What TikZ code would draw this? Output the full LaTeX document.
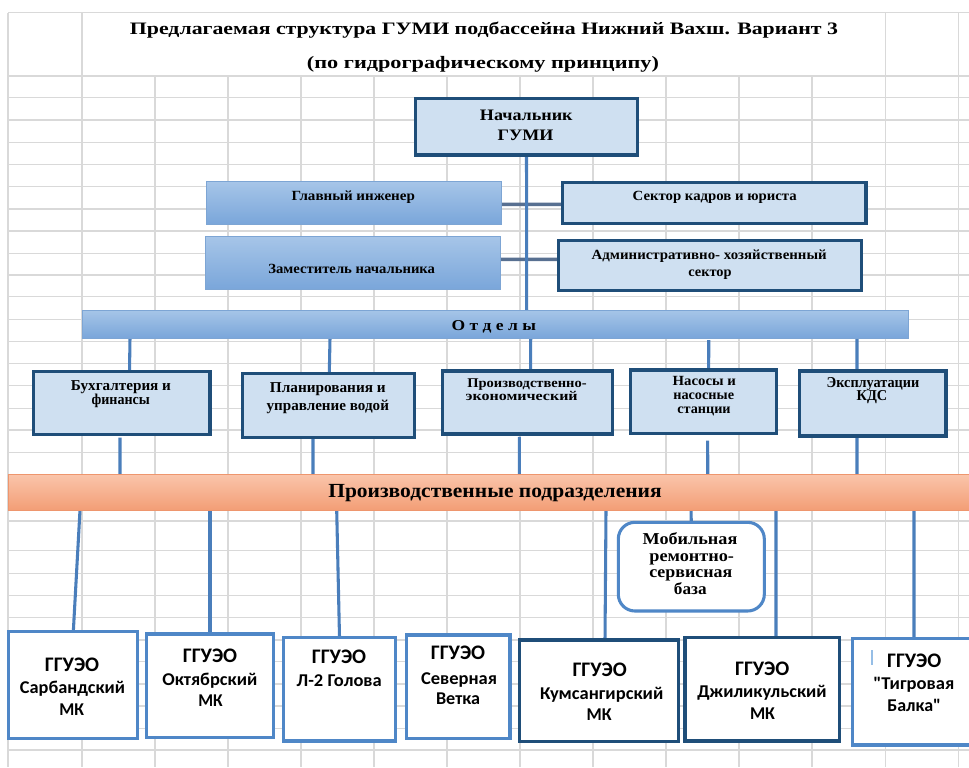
\documentclass[tikz,border=0pt]{standalone}
\usepackage{fontspec}
\setmainfont{Liberation Serif}
\newfontfamily\calib{Carlito}
\usepackage{graphicx}
\newlength\pxu \setlength\pxu{0.75pt}
\newcommand\wfit[2]{\resizebox{#1\pxu}{\height}{#2}}
\newcommand\mkbox[6]{%
  \pgfmathsetmacro\mybw{(#5-#3)*0.75}%
  \pgfmathsetmacro\mybh{(#6-#4)*0.75}%
  \node[#1, minimum width=\mybw pt, minimum height=\mybh pt] (#2) at (#3,#4) {};}
\definecolor{dk}{RGB}{31,78,121}
\definecolor{lt}{RGB}{207,224,241}
\definecolor{cn}{RGB}{74,126,187}
\definecolor{mb}{RGB}{79,135,199}
\definecolor{gridc}{RGB}{217,217,217}
\definecolor{gtop}{RGB}{166,197,232}
\definecolor{gbot}{RGB}{122,166,218}
\definecolor{gbd}{RGB}{125,165,212}
\definecolor{otop}{RGB}{250,197,171}
\definecolor{obot}{RGB}{243,158,118}
\definecolor{obd}{RGB}{238,150,110}
\definecolor{hcn}{RGB}{88,112,145}
\definecolor{tick}{RGB}{150,190,230}
\pgfdeclarelayer{gridlayer}
\pgfdeclarelayer{connlayer}
\pgfsetlayers{gridlayer,connlayer,main}
\tikzset{
  gridl/.style={draw=gridc, line width=0.8pt},
  basebox/.style={rectangle, inner sep=0pt, outer sep=0pt, anchor=north west},
  darkbox/.style={basebox, draw=dk, line width=2.3pt, fill=lt},
  gradbox/.style={basebox, draw=gbd, line width=0.6pt, top color=gtop, bottom color=gbot},
  orbox/.style={basebox, draw=obd, line width=0.6pt, top color=otop, bottom color=obot},
  bluebox/.style={basebox, draw=mb, line width=2.3pt, fill=white},
  dkwbox/.style={basebox, draw=dk, line width=2.3pt, fill=white},
  conn/.style={draw=cn, line width=2.3pt},
  hconn/.style={draw=hcn, line width=2.6pt},
  sl/.style={anchor=base, inner sep=0pt, text=black, font=\fontsize{#1}{#1}\selectfont\bfseries},
  ss/.style={anchor=base, inner sep=0pt, text=black, font=\calib\fontsize{#1}{#1}\selectfont\bfseries}
}
\begin{document}
\begin{tikzpicture}[x=0.75pt,y=-0.75pt]
\useasboundingbox (0,0) rectangle (969,767);
\clip (0,0) rectangle (969,767);
\begin{pgfonlayer}{gridlayer}
  \fill[white] (0,0) rectangle (969,767);
  \draw[gridl] (8,12.7) -- (969,12.7);
  \foreach \yy in {76,97.7,120,142.5,164.5,186.7,209,231,253.3,275,296.7,319.3,341.7,363.3,385.7,408.3,430,452.3,474.5,496.7,521,550.7,573.3,595.7,617.7,640,661.7,684,706,728.3,750}
    \draw[gridl] (8,\yy) -- (969,\yy);
  \foreach \xx in {155,228,301,374,447,520,593,666,739,812}
    \draw[gridl] (\xx,76) -- (\xx,767);
  \foreach \xx in {8,82,885.5,958.7}
    \draw[gridl] (\xx,12.7) -- (\xx,767);
\end{pgfonlayer}

% boxes
\mkbox{darkbox}{nach}{415.7}{98.3}{637.3}{155}
\mkbox{gradbox}{glav}{206}{181.7}{501}{224}
\mkbox{gradbox}{zam}{205}{236.7}{500}{289}
\mkbox{darkbox}{sektor}{562.7}{182.3}{866}{223.3}
\mkbox{darkbox}{adm}{558.3}{240.7}{861.7}{290.7}
\mkbox{gradbox}{otdely}{82}{310}{908}{338}
\mkbox{darkbox}{buh}{33.3}{371.7}{210}{434.3}
\mkbox{darkbox}{plan}{242.3}{373.3}{414.3}{437.3}
\mkbox{darkbox}{proizv}{442.7}{371}{612.7}{434}
\mkbox{darkbox}{nasos}{630.7}{370}{776.7}{433.3}
\mkbox{darkbox}{ekspl}{799.3}{371}{946}{436}
\mkbox{orbox}{podr}{8.3}{474}{981.7}{510}
\mkbox{bluebox}{sarb}{8.3}{631.7}{137.3}{738.3}
\mkbox{bluebox}{okt}{146.7}{634}{273.3}{737.7}
\mkbox{bluebox}{lgol}{283.3}{637.3}{395.7}{741}
\mkbox{bluebox}{sev}{406.7}{635}{510}{738.7}
\mkbox{dkwbox}{kum}{519.3}{640}{678.7}{741.7}
\mkbox{dkwbox}{dzh}{685}{637.7}{839.3}{741}
\mkbox{bluebox}{tig}{852.7}{638.3}{985}{745}
\mkbox{bluebox, rounded corners=12.5pt}{mob}{618.3}{522.3}{764.3}{611}

% connectors
\begin{pgfonlayer}{connlayer}
  \draw[hconn] ([yshift=-1.1pt]glav.east) -- ([yshift=-1.1pt]sektor.west);
  \draw[hconn] ([yshift=2.66pt]zam.east) -- ([yshift=4.8pt]adm.west);
  \draw[conn] (nach.south) -- ([xshift=23.78pt]otdely.north);
  \draw[conn] ([xshift=-273.75pt]otdely.south) -- ([xshift=5.89pt]buh.north);
  \draw[conn] ([xshift=-123.75pt]otdely.south) -- ([xshift=0.75pt]plan.north);
  \draw[conn] ([xshift=26.78pt]otdely.south) -- ([xshift=2.25pt]proizv.north);
  \draw[conn] ([xshift=160.28pt,yshift=-1.5pt]otdely.south) -- ([xshift=3.75pt]nasos.north);
  \draw[conn] ([xshift=271.5pt]otdely.south) -- ([xshift=-11.74pt]ekspl.north);
  \draw[conn] ([xshift=-1.24pt,yshift=-2.5pt]buh.south) -- ([xshift=-281.25pt]podr.north);
  \draw[conn] ([xshift=-11.48pt]plan.south) -- ([xshift=-136.5pt]podr.north);
  \draw[conn] ([xshift=-6.3pt,yshift=-2.2pt]proizv.south) -- ([xshift=18.23pt]podr.north);
  \draw[conn] ([xshift=3pt,yshift=-5.5pt]nasos.south) -- ([xshift=159.53pt]podr.north);
  \draw[conn] ([xshift=-11.74pt]ekspl.south) -- ([xshift=271.5pt]podr.north);
  \draw[conn] ([xshift=-311.25pt]podr.south) -- ([xshift=0.38pt]sarb.north);
  \draw[conn] ([xshift=-213.75pt]podr.south) -- (okt.north);
  \draw[conn] ([xshift=-118.73pt]podr.south) -- (lgol.north);
  \draw[conn] ([xshift=83.25pt]podr.south) -- ([xshift=4.5pt]kum.north);
  \draw[conn] ([xshift=147pt]podr.south) -- (mob.north);
  \draw[conn] ([xshift=210.75pt]podr.south) -- ([xshift=10.39pt]dzh.north);
  \draw[conn] ([xshift=314.25pt]podr.south) -- ([xshift=-3.64pt]tig.north);
\end{pgfonlayer}
\draw[tick, line width=1.3pt] (872.3,650) -- (872.3,665);

% title
\node[sl=13.1pt] (ttl1) at (484,34.3) {\wfit{708}{Предлагаемая структура ГУМИ подбассейна Нижний Вахш. Вариант 3}};
\node[sl=13.1pt] (ttl2) at (483,68) {\wfit{352}{(по гидрографическому принципу)}};

% upper labels
\node[sl=12pt] (tn1) at (526.3,120) {\wfit{92.7}{Начальник}};
\node[sl=12pt] (tn2) at (525.5,140) {\wfit{55.7}{ГУМИ}};
\node[sl=10.5pt] (tg) at (353.3,200) {\wfit{123.3}{Главный инженер}};
\node[sl=10.5pt] (tz) at (351.7,273.3) {\wfit{166.7}{Заместитель начальника}};
\node[sl=10.5pt] (ts) at (714.7,200.7) {\wfit{164}{Сектор кадров и юриста}};
\node[sl=10.5pt] (ta1) at (709.2,259.3) {\wfit{235}{Административно- хозяйственный}};
\node[sl=10.5pt] (ta2) at (710,276.7) {\wfit{43.3}{сектор}};
\node[sl=11.3pt] (to) at (493.8,330) {\wfit{84.3}{О т д е л ы}};

% department labels
\node[sl=11.3pt] (tb1) at (121,390) {\wfit{100}{Бухгалтерия и}};
\node[sl=11.3pt] (tb2) at (120.8,404.3) {\wfit{58.3}{финансы}};
\node[sl=11.3pt] (tp1) at (327.8,392.3) {\wfit{115.7}{Планирования и}};
\node[sl=11.3pt] (tp2) at (327.8,410) {\wfit{122.3}{управление водой}};
\node[sl=10pt] (tr1) at (527,387.6) {\wfit{119.3}{Производственно-}};
\node[sl=10pt] (tr2) at (521.7,400.5) {\wfit{112}{экономический}};
\node[sl=10.5pt] (tnn1) at (704.3,385.5) {\wfit{63.3}{Насосы и}};
\node[sl=10.5pt] (tnn2) at (703.7,399.3) {\wfit{60.7}{насосные}};
\node[sl=10.5pt] (tnn3) at (704,413) {\wfit{53.3}{станции}};
\node[sl=11.3pt] (te1) at (873,387.7) {\wfit{92.7}{Эксплуатации}};
\node[sl=11.3pt] (te2) at (872,400.7) {\wfit{30.7}{КДС}};
\node[sl=15pt] (tpp) at (495,497.7) {\wfit{333.4}{Производственные подразделения}};

% mobile base
\node[sl=12.5pt] (tm1) at (690,544.5) {\wfit{94.7}{Мобильная}};
\node[sl=12.5pt] (tm2) at (691.7,561) {\wfit{84.7}{ремонтно-}};
\node[sl=12.5pt] (tm3) at (690.8,577.8) {\wfit{83}{сервисная}};
\node[sl=12.5pt] (tm4) at (690.3,594) {\wfit{32.7}{база}};

% bottom units
\node[ss=15.5pt] (s1a) at (72,671.7) {ГГУЭО};
\node[ss=13.5pt] (s1b) at (72.5,693.3) {\wfit{105}{Сарбандский}};
\node[ss=13.5pt] (s1c) at (71.7,715.7) {\wfit{24.7}{МК}};
\node[ss=15.5pt] (s2a) at (210,662.3) {ГГУЭО};
\node[ss=13.5pt] (s2b) at (209.8,685) {\wfit{95}{Октябрский}};
\node[ss=13.5pt] (s2c) at (210.5,706.7) {\wfit{24.4}{МК}};
\node[ss=15.5pt] (s3a) at (339,663.3) {ГГУЭО};
\node[ss=13.5pt] (s3b) at (339.2,686) {\wfit{85}{Л-2 Голова}};
\node[ss=15.5pt] (s4a) at (458,659) {ГГУЭО};
\node[ss=13.5pt] (s4b) at (459,684.3) {\wfit{76}{Северная}};
\node[ss=13.5pt] (s4c) at (458,704) {\wfit{44}{Ветка}};
\node[ss=15.5pt] (s5a) at (599.7,676) {ГГУЭО};
\node[ss=13.5pt] (s5b) at (601.7,699) {\wfit{123.3}{Кумсангирский}};
\node[ss=13.5pt] (s5c) at (599.2,720) {\wfit{25}{МК}};
\node[ss=15.5pt] (s6a) at (762.2,675) {ГГУЭО};
\node[ss=13.5pt] (s6b) at (762,697.3) {\wfit{129.3}{Джиликульский}};
\node[ss=13.5pt] (s6c) at (762.5,719.3) {\wfit{25}{МК}};
\node[ss=15.5pt] (s7a) at (914.2,667.3) {ГГУЭО};
\node[ss=13.5pt] (s7b) at (913.8,689.3) {\wfit{81}{"Тигровая}};
\node[ss=13.5pt] (s7c) at (914.2,711.7) {\wfit{53.7}{Балка"}};
\end{tikzpicture}
\end{document}
